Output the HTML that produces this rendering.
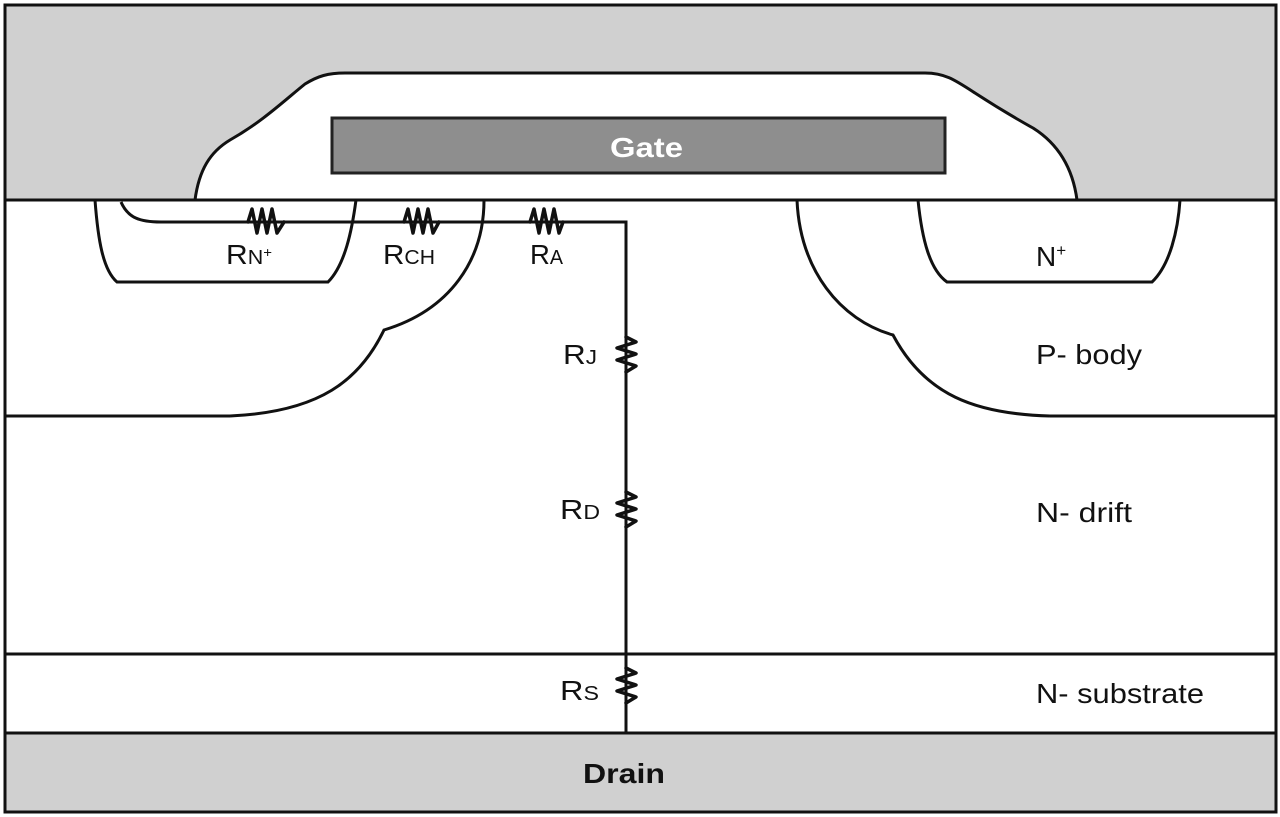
<!DOCTYPE html>
<html><head><meta charset="utf-8"><style>
html,body{margin:0;padding:0;background:#fff;}
svg{display:block;}
text{font-family:"Liberation Sans",Arial,sans-serif;fill:#111;}
</style></head><body>
<svg width="1280" height="817" viewBox="0 0 1280 817" xmlns="http://www.w3.org/2000/svg">
<rect x="0" y="0" width="1280" height="817" fill="#fff"/>
<rect x="5" y="5" width="1271" height="195" fill="#d0d0d0"/>
<rect x="5" y="733" width="1271" height="79" fill="#d0d0d0"/>
<path d="M195,200 C199,170 210,152 230,140 C262,122 285,100 305,84 C318,76 328,73 345,73 L925,73 C945,73 955,80 975,93 C995,106 1015,118 1033,128 C1060,145 1073,170 1077,200 Z" fill="#fff" stroke="#111" stroke-width="3"/>
<rect x="332" y="118" width="613" height="55" fill="#8e8e8e" stroke="#222" stroke-width="3"/>
<text x="610" y="157" font-size="28" font-weight="bold" textLength="73" lengthAdjust="spacingAndGlyphs" style="fill:#fff">Gate</text>
<g fill="none" stroke="#111" stroke-width="3">
<line x1="5" y1="200" x2="1276" y2="200"/>
<line x1="5" y1="416" x2="230" y2="416"/>
<line x1="1050" y1="416" x2="1276" y2="416"/>
<line x1="5" y1="654" x2="1276" y2="654"/>
<line x1="5" y1="733" x2="1276" y2="733"/>
<path d="M484,200 C484,260 450,310 384,330 C360,380 320,412 230,416"/>
<path d="M797,200 C800,270 840,320 893,335 C925,395 975,414 1050,416"/>
<path d="M95,200 C98,240 103,270 117,282 L328,282 C345,265 352,230 356,200"/>
<path d="M918,200 C922,240 930,270 947,282 L1152,282 C1170,265 1178,230 1180,200"/>
<path d="M121,202 C128,218 140,222 161,222 L626,222 L626,733"/>
<rect x="5" y="5" width="1271" height="807"/>
</g>
<g fill="none" stroke="#111" stroke-width="3.5" stroke-linejoin="round" stroke-linecap="round">
<path d="M248,222 L252,209 L257,233 L262,209 L267,233 L272,209 L277,233 L284,222"/>
<path d="M404,222 L408,209 L413,233 L418,209 L423,233 L428,209 L433,233 L439,222"/>
<path d="M530,222 L534,209 L539,233 L544,209 L549,233 L554,209 L559,233 L563,222"/>
<path d="M626,337 L636,342 L617,348 L636,354 L617,360 L636,366 L626,372"/>
<path d="M626,492 L636,497 L617,503 L636,509 L617,515 L636,521 L626,527"/>
<path d="M626,668 L636,673 L617,679 L636,685 L617,691 L636,697 L626,703"/>
</g>
<text x="226" y="264" font-size="28" textLength="46" lengthAdjust="spacingAndGlyphs">R<tspan font-size="20">N</tspan><tspan font-size="14" dy="-7">+</tspan></text>
<text x="383" y="264" font-size="28" textLength="52" lengthAdjust="spacingAndGlyphs">R<tspan font-size="20">CH</tspan></text>
<text x="530" y="264" font-size="28" textLength="33" lengthAdjust="spacingAndGlyphs">R<tspan font-size="20">A</tspan></text>
<text x="563" y="364" font-size="28" textLength="34" lengthAdjust="spacingAndGlyphs">R<tspan font-size="20">J</tspan></text>
<text x="560" y="519" font-size="28" textLength="40" lengthAdjust="spacingAndGlyphs">R<tspan font-size="20">D</tspan></text>
<text x="560" y="700" font-size="28" textLength="39" lengthAdjust="spacingAndGlyphs">R<tspan font-size="20">S</tspan></text>
<text x="1036" y="266" font-size="28">N<tspan font-size="17" dy="-10">+</tspan></text>
<text x="1036" y="364" font-size="28" textLength="106" lengthAdjust="spacingAndGlyphs">P- body</text>
<text x="1036" y="522" font-size="28" textLength="96" lengthAdjust="spacingAndGlyphs">N- drift</text>
<text x="1036" y="703" font-size="28" textLength="168" lengthAdjust="spacingAndGlyphs">N- substrate</text>
<text x="583" y="783" font-size="28" font-weight="bold" textLength="82" lengthAdjust="spacingAndGlyphs">Drain</text>
</svg>
</body></html>
